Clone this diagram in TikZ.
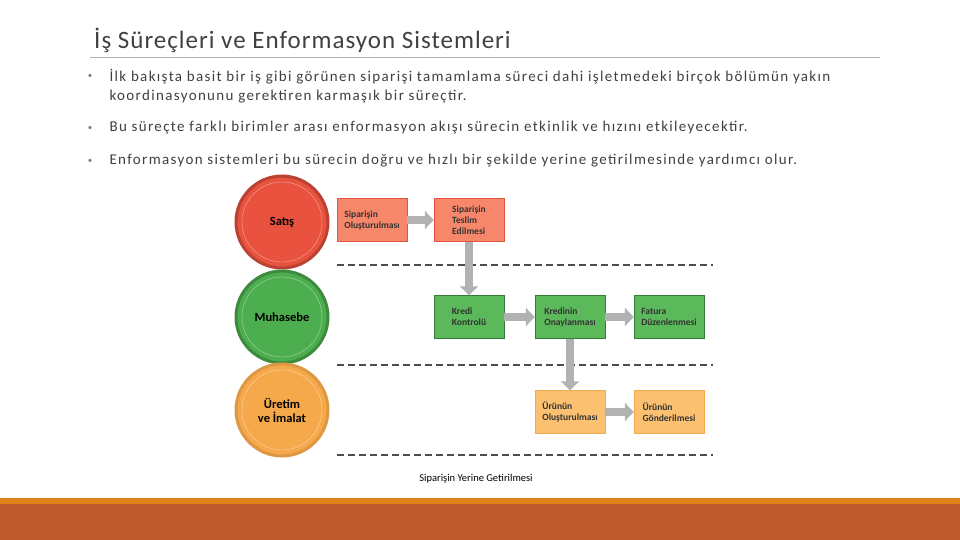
\documentclass[tikz,border=0pt]{standalone}
\usepackage{fontspec}
\setmainfont{Carlito}
\newfontfamily\wideface[LetterSpace=9]{Carlito}
\usetikzlibrary{positioning,arrows.meta}
\definecolor{satis}{HTML}{E8523F}
\definecolor{satisbox}{HTML}{F6876A}
\definecolor{muh}{HTML}{4DAE4F}
\definecolor{muhbox}{HTML}{5BB85B}
\definecolor{uret}{HTML}{F6A94B}
\definecolor{uretbox}{HTML}{FBC070}
\definecolor{txtgray}{HTML}{404040}
\definecolor{bar}{HTML}{BE5A2C}
\definecolor{barlight}{HTML}{E0821A}
\tikzset{
  dept/.style={circle, minimum size=92pt, line width=3pt, font=\bfseries\fontsize{12.5}{14}\selectfont, align=center, inner sep=0pt},
  procbox/.style={rectangle, minimum width=70pt, minimum height=43pt, inner sep=2pt, font=\bfseries\fontsize{9.5}{11}\selectfont, align=left, text=black!80},
  flow/.style={-{Triangle[width=18pt,length=9pt]}, line width=8pt, gray!60},
  bullet/.style={anchor=north west, align=left, text=txtgray, font=\wideface\fontsize{15}{19}\selectfont},
  lane/.style={dashed, line width=1.5pt, dash pattern=on 7pt off 4pt, black!70}
}
\begin{document}
\begin{tikzpicture}[x=1pt,y=-1pt]
\useasboundingbox (0,0) rectangle (960,540);
% title and bullets
\node[anchor=west, inner sep=0pt, text=txtgray, font=\addfontfeatures{LetterSpace=4}\fontsize{25}{28}\selectfont] (title) at (94,40) {İş Süreçleri ve Enformasyon Sistemleri};
\draw[gray!60] (90,57) -- (880,57);
\node[bullet] (b1) at (106,66) {İlk bakışta basit bir iş gibi görünen siparişi tamamlama süreci dahi işletmedeki birçok bölümün yakın\\koordinasyonunu gerektiren karmaşık bir süreçtir.};
\node[bullet] (b2) at (106,118) {Bu süreçte farklı birimler arası enformasyon akışı sürecin etkinlik ve hızını etkileyecektir.};
\node[bullet] (b3) at (106,151) {Enformasyon sistemleri bu sürecin doğru ve hızlı bir şekilde yerine getirilmesinde yardımcı olur.};
\foreach \y in {76,128,161} \node[text=gray, font=\small] at (90,\y) {•};
% departments
\node[dept, fill=satis, draw=satis!80!black] (satis) at (282,222) {Satış};
\node[dept, fill=muh, draw=muh!80!black] (muh) at (282,317) {Muhasebe};
\node[dept, fill=uret, draw=uret!90!black] (uret) at (282,410) {Üretim\\ve İmalat};
\foreach \d in {satis,muh,uret} \draw[white, opacity=.5] (\d.center) circle (40pt);
% lanes
\foreach \y in {265,365,455} \draw[lane] (337,\y) -- (713,\y);
% process boxes
\node[procbox, fill=satisbox, draw=satis] (olus) at (372,220) {Siparişin\\Oluşturulması};
\node[procbox, fill=satisbox, draw=satis] (teslim) at (469,220) {Siparişin\\Teslim\\Edilmesi};
\node[procbox, fill=muhbox, draw=muh!70!black] (kredi) at (469,317) {Kredi\\Kontrolü};
\node[procbox, fill=muhbox, draw=muh!70!black] (onay) at (570,317) {Kredinin\\Onaylanması};
\node[procbox, fill=muhbox, draw=muh!70!black] (fatura) at (669,317) {Fatura\\Düzenlenmesi};
\node[procbox, fill=uretbox, draw=uret] (urun) at (570,412) {Ürünün\\Oluşturulması};
\node[procbox, fill=uretbox, draw=uret] (gonder) at (669,412) {Ürünün\\Gönderilmesi};
% flows
\draw[flow] (olus) -- (teslim);
\draw[flow] (teslim) -- (kredi);
\draw[flow] (kredi) -- (onay);
\draw[flow] (onay) -- (fatura);
\draw[flow] (onay) -- (urun);
\draw[flow] (urun) -- (gonder);
\node[font=\fontsize{10.5}{12}\selectfont] (cap) at (476,479) {Siparişin Yerine Getirilmesi};
% footer bar
\fill[barlight] (0,498) rectangle (960,504);
\fill[bar] (0,504) rectangle (960,540);
\end{tikzpicture}
\end{document}
